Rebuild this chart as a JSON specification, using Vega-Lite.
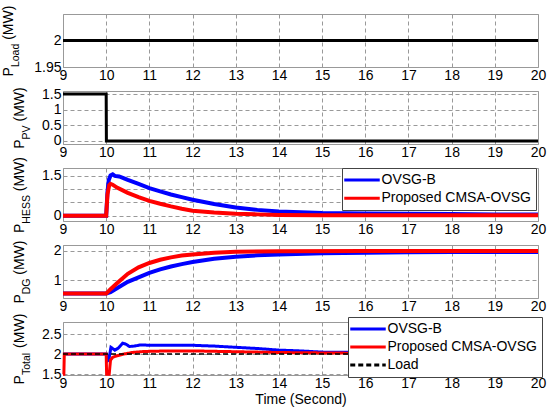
{
  "$schema": "https://vega.github.io/schema/vega-lite/v6.json",
  "padding": {"left": 0, "top": 4, "right": 0, "bottom": 0},
  "bounds": "flush",
  "spacing": 24,
  "resolve": {
    "scale": {"color": "independent", "strokeDash": "independent"},
    "legend": {"color": "independent", "strokeDash": "independent"}
  },
  "config": {
    "font": "Liberation Sans",
    "view": {"stroke": "#999", "strokeWidth": 1},
    "axis": {
      "labelFont": "Liberation Sans", "labelFontSize": 14, "labelColor": "#000",
      "titleFont": "Liberation Sans", "titleFontSize": 14, "titleFontWeight": "normal", "titleColor": "#000",
      "domain": false, "ticks": false, "tickSize": 0,
      "gridDash": [4, 3], "gridColor": "#999", "gridWidth": 1,
      "labelPadding": 2, "format": "~g"
    },
    "axisX": {"labelFlush": false, "labelPadding": 1, "titlePadding": 2}
  },
  "vconcat": [
    {
      "width": 475, "height": 53,
      "layer": [
        {
          "data": {"values": [{"t": 9, "p": 2}, {"t": 20, "p": 2}]},
          "mark": {"type": "line", "color": "#000", "strokeWidth": 3},
          "encoding": {
            "x": {"field": "t", "type": "quantitative", "scale": {"domain": [9, 20], "nice": false}, "axis": {"values": [9, 10, 11, 12, 13, 14, 15, 16, 17, 18, 19, 20], "title": null}},
            "y": {"field": "p", "type": "quantitative", "scale": {"domain": [1.95, 2.05], "nice": false, "zero": false},
              "axis": {"orient": "left", "values": [1.95, 2], "format": "~g", "title": "P", "titleX": -51, "titleY": 61.9, "titleAngle": 270, "titleAlign": "left", "titleBaseline": "alphabetic"}}
          }
        },
        {
          "data": {"values": [{"k": 1}]},
          "mark": {"type": "rule", "opacity": 0},
          "encoding": {"y": {"datum": 2, "type": "quantitative", "scale": {"domain": [1.95, 2.05], "nice": false, "zero": false},
            "axis": {"orient": "left", "title": "Load", "titleFontSize": 10.5, "titleX": -45, "titleY": 52.6, "titleAngle": 270, "titleAlign": "left", "titleBaseline": "alphabetic", "labels": false, "grid": false, "domain": false, "ticks": false}}}
        },
        {
          "data": {"values": [{"k": 1}]},
          "mark": {"type": "rule", "opacity": 0},
          "encoding": {"y": {"datum": 2, "type": "quantitative", "scale": {"domain": [1.95, 2.05], "nice": false, "zero": false},
            "axis": {"orient": "left", "title": "(MW)", "titleX": -51, "titleY": 25.3, "titleAngle": 270, "titleAlign": "left", "titleBaseline": "alphabetic", "labels": false, "grid": false, "domain": false, "ticks": false}}}
        }
      ],
      "resolve": {"axis": {"y": "independent"}}
    },
    {
      "width": 475, "height": 53,
      "layer": [
        {
          "data": {"values": [{"t": 9, "p": 1.5}, {"t": 10, "p": 1.5}, {"t": 10.005, "p": 0}, {"t": 20, "p": 0}]},
          "mark": {"type": "line", "color": "#000", "strokeWidth": 3},
          "encoding": {
            "x": {"field": "t", "type": "quantitative", "scale": {"domain": [9, 20], "nice": false}, "axis": {"values": [9, 10, 11, 12, 13, 14, 15, 16, 17, 18, 19, 20], "title": null}},
            "y": {"field": "p", "type": "quantitative", "scale": {"domain": [-0.1, 1.6], "nice": false, "zero": false},
              "axis": {"orient": "left", "values": [0, 0.5, 1, 1.5], "format": "~g", "title": "P", "titleX": -40, "titleY": 57.2, "titleAngle": 270, "titleAlign": "left", "titleBaseline": "alphabetic"}}
          }
        },
        {
          "data": {"values": [{"k": 1}]},
          "mark": {"type": "rule", "opacity": 0},
          "encoding": {"y": {"datum": 0, "type": "quantitative", "scale": {"domain": [-0.1, 1.6], "nice": false, "zero": false},
            "axis": {"orient": "left", "title": "PV", "titleFontSize": 10.5, "titleX": -34, "titleY": 47.9, "titleAngle": 270, "titleAlign": "left", "titleBaseline": "alphabetic", "labels": false, "grid": false, "domain": false, "ticks": false}}}
        },
        {
          "data": {"values": [{"k": 1}]},
          "mark": {"type": "rule", "opacity": 0},
          "encoding": {"y": {"datum": 0, "type": "quantitative", "scale": {"domain": [-0.1, 1.6], "nice": false, "zero": false},
            "axis": {"orient": "left", "title": "(MW)", "titleX": -40, "titleY": 30.0, "titleAngle": 270, "titleAlign": "left", "titleBaseline": "alphabetic", "labels": false, "grid": false, "domain": false, "ticks": false}}}
        }
      ],
      "resolve": {"axis": {"y": "independent"}}
    },
    {
      "width": 475, "height": 53,
      "layer": [
        {
          "data": {"values": [
            {"t": 9, "p": 0, "s": "OVSG-B"}, {"t": 10, "p": 0, "s": "OVSG-B"}, {"t": 10.03, "p": 0.9, "s": "OVSG-B"},
            {"t": 10.06, "p": 1.35, "s": "OVSG-B"}, {"t": 10.1, "p": 1.52, "s": "OVSG-B"}, {"t": 10.15, "p": 1.56, "s": "OVSG-B"},
            {"t": 10.2, "p": 1.5, "s": "OVSG-B"}, {"t": 10.3, "p": 1.48, "s": "OVSG-B"}, {"t": 10.4, "p": 1.42, "s": "OVSG-B"},
            {"t": 10.5, "p": 1.35, "s": "OVSG-B"}, {"t": 10.75, "p": 1.2, "s": "OVSG-B"}, {"t": 11, "p": 1.04, "s": "OVSG-B"},
            {"t": 11.25, "p": 0.92, "s": "OVSG-B"}, {"t": 11.5, "p": 0.8, "s": "OVSG-B"}, {"t": 11.75, "p": 0.7, "s": "OVSG-B"},
            {"t": 12, "p": 0.6, "s": "OVSG-B"}, {"t": 12.5, "p": 0.44, "s": "OVSG-B"}, {"t": 13, "p": 0.31, "s": "OVSG-B"},
            {"t": 13.5, "p": 0.22, "s": "OVSG-B"}, {"t": 14, "p": 0.16, "s": "OVSG-B"}, {"t": 14.5, "p": 0.13, "s": "OVSG-B"},
            {"t": 15, "p": 0.1, "s": "OVSG-B"}, {"t": 16, "p": 0.08, "s": "OVSG-B"}, {"t": 17, "p": 0.07, "s": "OVSG-B"},
            {"t": 18, "p": 0.06, "s": "OVSG-B"}, {"t": 19, "p": 0.05, "s": "OVSG-B"}, {"t": 20, "p": 0.05, "s": "OVSG-B"},
            {"t": 9, "p": 0, "s": "Proposed CMSA-OVSG"}, {"t": 10, "p": 0, "s": "Proposed CMSA-OVSG"}, {"t": 10.03, "p": 0.8, "s": "Proposed CMSA-OVSG"},
            {"t": 10.07, "p": 1.15, "s": "Proposed CMSA-OVSG"}, {"t": 10.1, "p": 1.2, "s": "Proposed CMSA-OVSG"}, {"t": 10.15, "p": 1.17, "s": "Proposed CMSA-OVSG"},
            {"t": 10.25, "p": 1.06, "s": "Proposed CMSA-OVSG"}, {"t": 10.5, "p": 0.86, "s": "Proposed CMSA-OVSG"}, {"t": 10.75, "p": 0.7, "s": "Proposed CMSA-OVSG"},
            {"t": 11, "p": 0.56, "s": "Proposed CMSA-OVSG"}, {"t": 11.25, "p": 0.45, "s": "Proposed CMSA-OVSG"}, {"t": 11.5, "p": 0.35, "s": "Proposed CMSA-OVSG"},
            {"t": 11.75, "p": 0.26, "s": "Proposed CMSA-OVSG"}, {"t": 12, "p": 0.19, "s": "Proposed CMSA-OVSG"}, {"t": 12.5, "p": 0.12, "s": "Proposed CMSA-OVSG"},
            {"t": 13, "p": 0.07, "s": "Proposed CMSA-OVSG"}, {"t": 13.5, "p": 0.05, "s": "Proposed CMSA-OVSG"}, {"t": 14, "p": 0.03, "s": "Proposed CMSA-OVSG"},
            {"t": 15, "p": 0.02, "s": "Proposed CMSA-OVSG"}, {"t": 17, "p": 0.02, "s": "Proposed CMSA-OVSG"}, {"t": 20, "p": 0.02, "s": "Proposed CMSA-OVSG"}
          ]},
          "mark": {"type": "line", "strokeWidth": 4},
          "encoding": {
            "x": {"field": "t", "type": "quantitative", "scale": {"domain": [9, 20], "nice": false}, "axis": {"values": [9, 10, 11, 12, 13, 14, 15, 16, 17, 18, 19, 20], "title": null}},
            "y": {"field": "p", "type": "quantitative", "scale": {"domain": [-0.2, 1.8], "nice": false, "zero": false},
              "axis": {"orient": "left", "values": [0, 0.5, 1, 1.5], "format": "~g", "title": "P", "titleX": -40, "titleY": 64.5, "titleAngle": 270, "titleAlign": "left", "titleBaseline": "alphabetic"}},
            "color": {"field": "s", "type": "nominal", "scale": {"domain": ["OVSG-B", "Proposed CMSA-OVSG"], "range": ["#0000ff", "#ff0000"]},
              "legend": {"title": null, "orient": "none", "legendX": 279, "legendY": 0, "symbolType": "M-3,0H3", "symbolSize": 140, "symbolStrokeWidth": 3, "symbolOffset": 8, "labelOffset": 12, "labelFont": "Liberation Sans", "labelFontSize": 14, "labelColor": "#000", "labelLimit": 300, "padding": 4.5, "rowPadding": 3.3, "strokeColor": "#444", "fillColor": "#fff"}}
          }
        },
        {
          "data": {"values": [{"k": 1}]},
          "mark": {"type": "rule", "opacity": 0},
          "encoding": {"y": {"datum": 0, "type": "quantitative", "scale": {"domain": [-0.2, 1.8], "nice": false, "zero": false},
            "axis": {"orient": "left", "title": "HESS", "titleFontSize": 10.5, "titleX": -34, "titleY": 55.2, "titleAngle": 270, "titleAlign": "left", "titleBaseline": "alphabetic", "labels": false, "grid": false, "domain": false, "ticks": false}}}
        },
        {
          "data": {"values": [{"k": 1}]},
          "mark": {"type": "rule", "opacity": 0},
          "encoding": {"y": {"datum": 0, "type": "quantitative", "scale": {"domain": [-0.2, 1.8], "nice": false, "zero": false},
            "axis": {"orient": "left", "title": "(MW)", "titleX": -40, "titleY": 22.7, "titleAngle": 270, "titleAlign": "left", "titleBaseline": "alphabetic", "labels": false, "grid": false, "domain": false, "ticks": false}}}
        }
      ],
      "resolve": {"axis": {"y": "independent"}}
    },
    {
      "width": 475, "height": 53,
      "layer": [
        {
          "data": {"values": [
            {"t": 9, "p": 0.55, "s": "OVSG-B"}, {"t": 10, "p": 0.55, "s": "OVSG-B"}, {"t": 10.1, "p": 0.6, "s": "OVSG-B"},
            {"t": 10.25, "p": 0.73, "s": "OVSG-B"}, {"t": 10.5, "p": 0.95, "s": "OVSG-B"}, {"t": 10.75, "p": 1.1, "s": "OVSG-B"},
            {"t": 11, "p": 1.25, "s": "OVSG-B"}, {"t": 11.25, "p": 1.37, "s": "OVSG-B"}, {"t": 11.5, "p": 1.47, "s": "OVSG-B"},
            {"t": 11.75, "p": 1.55, "s": "OVSG-B"}, {"t": 12, "p": 1.62, "s": "OVSG-B"}, {"t": 12.5, "p": 1.73, "s": "OVSG-B"},
            {"t": 13, "p": 1.8, "s": "OVSG-B"}, {"t": 13.5, "p": 1.85, "s": "OVSG-B"}, {"t": 14, "p": 1.88, "s": "OVSG-B"},
            {"t": 15, "p": 1.92, "s": "OVSG-B"}, {"t": 16, "p": 1.94, "s": "OVSG-B"}, {"t": 17, "p": 1.95, "s": "OVSG-B"},
            {"t": 18, "p": 1.96, "s": "OVSG-B"}, {"t": 20, "p": 1.96, "s": "OVSG-B"},
            {"t": 9, "p": 0.55, "s": "Proposed CMSA-OVSG"}, {"t": 10, "p": 0.55, "s": "Proposed CMSA-OVSG"}, {"t": 10.1, "p": 0.7, "s": "Proposed CMSA-OVSG"},
            {"t": 10.25, "p": 0.9, "s": "Proposed CMSA-OVSG"}, {"t": 10.5, "p": 1.22, "s": "Proposed CMSA-OVSG"}, {"t": 10.75, "p": 1.44, "s": "Proposed CMSA-OVSG"},
            {"t": 11, "p": 1.59, "s": "Proposed CMSA-OVSG"}, {"t": 11.25, "p": 1.7, "s": "Proposed CMSA-OVSG"}, {"t": 11.5, "p": 1.78, "s": "Proposed CMSA-OVSG"},
            {"t": 11.75, "p": 1.84, "s": "Proposed CMSA-OVSG"}, {"t": 12, "p": 1.88, "s": "Proposed CMSA-OVSG"}, {"t": 12.5, "p": 1.94, "s": "Proposed CMSA-OVSG"},
            {"t": 13, "p": 1.97, "s": "Proposed CMSA-OVSG"}, {"t": 14, "p": 1.99, "s": "Proposed CMSA-OVSG"}, {"t": 16, "p": 2.0, "s": "Proposed CMSA-OVSG"},
            {"t": 20, "p": 2.0, "s": "Proposed CMSA-OVSG"}
          ]},
          "mark": {"type": "line", "strokeWidth": 4},
          "encoding": {
            "x": {"field": "t", "type": "quantitative", "scale": {"domain": [9, 20], "nice": false}, "axis": {"values": [9, 10, 11, 12, 13, 14, 15, 16, 17, 18, 19, 20], "title": null}},
            "y": {"field": "p", "type": "quantitative", "scale": {"domain": [0.4, 2.2], "nice": false, "zero": false},
              "axis": {"orient": "left", "values": [1, 2], "format": "~g", "title": "P", "titleX": -40, "titleY": 58.1, "titleAngle": 270, "titleAlign": "left", "titleBaseline": "alphabetic"}},
            "color": {"field": "s", "type": "nominal", "scale": {"domain": ["OVSG-B", "Proposed CMSA-OVSG"], "range": ["#0000ff", "#ff0000"]}, "legend": null}
          }
        },
        {
          "data": {"values": [{"k": 1}]},
          "mark": {"type": "rule", "opacity": 0},
          "encoding": {"y": {"datum": 1, "type": "quantitative", "scale": {"domain": [0.4, 2.2], "nice": false, "zero": false},
            "axis": {"orient": "left", "title": "DG", "titleFontSize": 10.5, "titleX": -34, "titleY": 48.8, "titleAngle": 270, "titleAlign": "left", "titleBaseline": "alphabetic", "labels": false, "grid": false, "domain": false, "ticks": false}}}
        },
        {
          "data": {"values": [{"k": 1}]},
          "mark": {"type": "rule", "opacity": 0},
          "encoding": {"y": {"datum": 1, "type": "quantitative", "scale": {"domain": [0.4, 2.2], "nice": false, "zero": false},
            "axis": {"orient": "left", "title": "(MW)", "titleX": -40, "titleY": 29.2, "titleAngle": 270, "titleAlign": "left", "titleBaseline": "alphabetic", "labels": false, "grid": false, "domain": false, "ticks": false}}}
        }
      ],
      "resolve": {"axis": {"y": "independent"}}
    },
    {
      "width": 475, "height": 53,
      "layer": [
        {
          "data": {"values": [
            {"t": 9, "p": 2, "s": "OVSG-B"}, {"t": 10, "p": 2, "s": "OVSG-B"}, {"t": 10.03, "p": 1.83, "s": "OVSG-B"},
            {"t": 10.06, "p": 1.85, "s": "OVSG-B"}, {"t": 10.11, "p": 2.17, "s": "OVSG-B"}, {"t": 10.2, "p": 2.1, "s": "OVSG-B"},
            {"t": 10.28, "p": 2.15, "s": "OVSG-B"}, {"t": 10.38, "p": 2.27, "s": "OVSG-B"}, {"t": 10.45, "p": 2.25, "s": "OVSG-B"},
            {"t": 10.54, "p": 2.19, "s": "OVSG-B"}, {"t": 10.65, "p": 2.2, "s": "OVSG-B"}, {"t": 10.8, "p": 2.23, "s": "OVSG-B"},
            {"t": 11, "p": 2.22, "s": "OVSG-B"}, {"t": 11.5, "p": 2.22, "s": "OVSG-B"}, {"t": 12, "p": 2.22, "s": "OVSG-B"},
            {"t": 12.5, "p": 2.2, "s": "OVSG-B"}, {"t": 13, "p": 2.17, "s": "OVSG-B"}, {"t": 13.5, "p": 2.14, "s": "OVSG-B"},
            {"t": 14, "p": 2.1, "s": "OVSG-B"}, {"t": 14.5, "p": 2.08, "s": "OVSG-B"}, {"t": 15, "p": 2.05, "s": "OVSG-B"},
            {"t": 16, "p": 2.04, "s": "OVSG-B"}, {"t": 17, "p": 2.03, "s": "OVSG-B"}, {"t": 18, "p": 2.03, "s": "OVSG-B"},
            {"t": 20, "p": 2.02, "s": "OVSG-B"},
            {"t": 9, "p": 1.5, "s": "Proposed CMSA-OVSG"}, {"t": 9.02, "p": 1.5, "s": "Proposed CMSA-OVSG"}, {"t": 9.03, "p": 2, "s": "Proposed CMSA-OVSG"},
            {"t": 10, "p": 2, "s": "Proposed CMSA-OVSG"}, {"t": 10.01, "p": 1.5, "s": "Proposed CMSA-OVSG"}, {"t": 10.07, "p": 1.5, "s": "Proposed CMSA-OVSG"},
            {"t": 10.1, "p": 1.85, "s": "Proposed CMSA-OVSG"}, {"t": 10.15, "p": 1.92, "s": "Proposed CMSA-OVSG"}, {"t": 10.25, "p": 1.96, "s": "Proposed CMSA-OVSG"},
            {"t": 10.4, "p": 2.0, "s": "Proposed CMSA-OVSG"}, {"t": 10.6, "p": 2.04, "s": "Proposed CMSA-OVSG"}, {"t": 10.8, "p": 2.06, "s": "Proposed CMSA-OVSG"},
            {"t": 11, "p": 2.07, "s": "Proposed CMSA-OVSG"}, {"t": 11.5, "p": 2.08, "s": "Proposed CMSA-OVSG"}, {"t": 12, "p": 2.08, "s": "Proposed CMSA-OVSG"},
            {"t": 12.5, "p": 2.07, "s": "Proposed CMSA-OVSG"}, {"t": 13, "p": 2.06, "s": "Proposed CMSA-OVSG"}, {"t": 13.5, "p": 2.05, "s": "Proposed CMSA-OVSG"},
            {"t": 14, "p": 2.04, "s": "Proposed CMSA-OVSG"}, {"t": 15, "p": 2.03, "s": "Proposed CMSA-OVSG"}, {"t": 16, "p": 2.02, "s": "Proposed CMSA-OVSG"},
            {"t": 20, "p": 2.02, "s": "Proposed CMSA-OVSG"}
          ]},
          "mark": {"type": "line", "strokeWidth": 3},
          "encoding": {
            "x": {"field": "t", "type": "quantitative", "scale": {"domain": [9, 20], "nice": false}, "axis": {"values": [9, 10, 11, 12, 13, 14, 15, 16, 17, 18, 19, 20], "title": "Time (Second)"}},
            "y": {"field": "p", "type": "quantitative", "scale": {"domain": [1.48, 2.8], "nice": false, "zero": false},
              "axis": {"orient": "left", "values": [1.5, 2, 2.5], "format": "~g", "title": "P", "titleX": -40, "titleY": 61.9, "titleAngle": 270, "titleAlign": "left", "titleBaseline": "alphabetic"}},
            "color": {"field": "s", "type": "nominal", "scale": {"domain": ["OVSG-B", "Proposed CMSA-OVSG", "Load"], "range": ["#0000ff", "#ff0000", "#000000"]},
              "legend": {"title": null, "orient": "none", "legendX": 285, "legendY": -5, "symbolType": "M-3,0H3", "symbolSize": 140, "symbolStrokeWidth": 3, "symbolOffset": 8, "labelOffset": 12, "labelFont": "Liberation Sans", "labelFontSize": 14, "labelColor": "#000", "labelLimit": 300, "padding": 4.5, "rowPadding": 3, "strokeColor": "#444", "fillColor": "#fff"}},
            "strokeDash": {"field": "s", "type": "nominal", "scale": {"domain": ["OVSG-B", "Proposed CMSA-OVSG", "Load"], "range": [[1, 0], [1, 0], [5, 3]]},
              "legend": {"title": null, "orient": "none", "legendX": 285, "legendY": -5, "symbolType": "M-3,0H3", "symbolSize": 140, "symbolStrokeWidth": 3, "symbolOffset": 8, "labelOffset": 12, "labelFont": "Liberation Sans", "labelFontSize": 14, "labelColor": "#000", "labelLimit": 300, "padding": 4.5, "rowPadding": 3, "strokeColor": "#444", "fillColor": "#fff"}}
          }
        },
        {
          "data": {"values": [{"t": 9, "p": 2, "s": "Load"}, {"t": 20, "p": 2, "s": "Load"}]},
          "mark": {"type": "line", "strokeWidth": 1.5},
          "encoding": {
            "x": {"field": "t", "type": "quantitative"},
            "y": {"field": "p", "type": "quantitative", "scale": {"domain": [1.48, 2.8], "nice": false, "zero": false}, "axis": null},
            "color": {"field": "s", "type": "nominal"},
            "strokeDash": {"field": "s", "type": "nominal"}
          }
        },
        {
          "data": {"values": [{"k": 1}]},
          "mark": {"type": "rule", "opacity": 0},
          "encoding": {"y": {"datum": 2, "type": "quantitative", "scale": {"domain": [1.48, 2.8], "nice": false, "zero": false},
            "axis": {"orient": "left", "title": "Total", "titleFontSize": 10.5, "titleX": -34, "titleY": 52.6, "titleAngle": 270, "titleAlign": "left", "titleBaseline": "alphabetic", "labels": false, "grid": false, "domain": false, "ticks": false}}}
        },
        {
          "data": {"values": [{"k": 1}]},
          "mark": {"type": "rule", "opacity": 0},
          "encoding": {"y": {"datum": 2, "type": "quantitative", "scale": {"domain": [1.48, 2.8], "nice": false, "zero": false},
            "axis": {"orient": "left", "title": "(MW)", "titleX": -40, "titleY": 25.4, "titleAngle": 270, "titleAlign": "left", "titleBaseline": "alphabetic", "labels": false, "grid": false, "domain": false, "ticks": false}}}
        }
      ],
      "resolve": {"axis": {"y": "independent"}}
    }
  ]
}
